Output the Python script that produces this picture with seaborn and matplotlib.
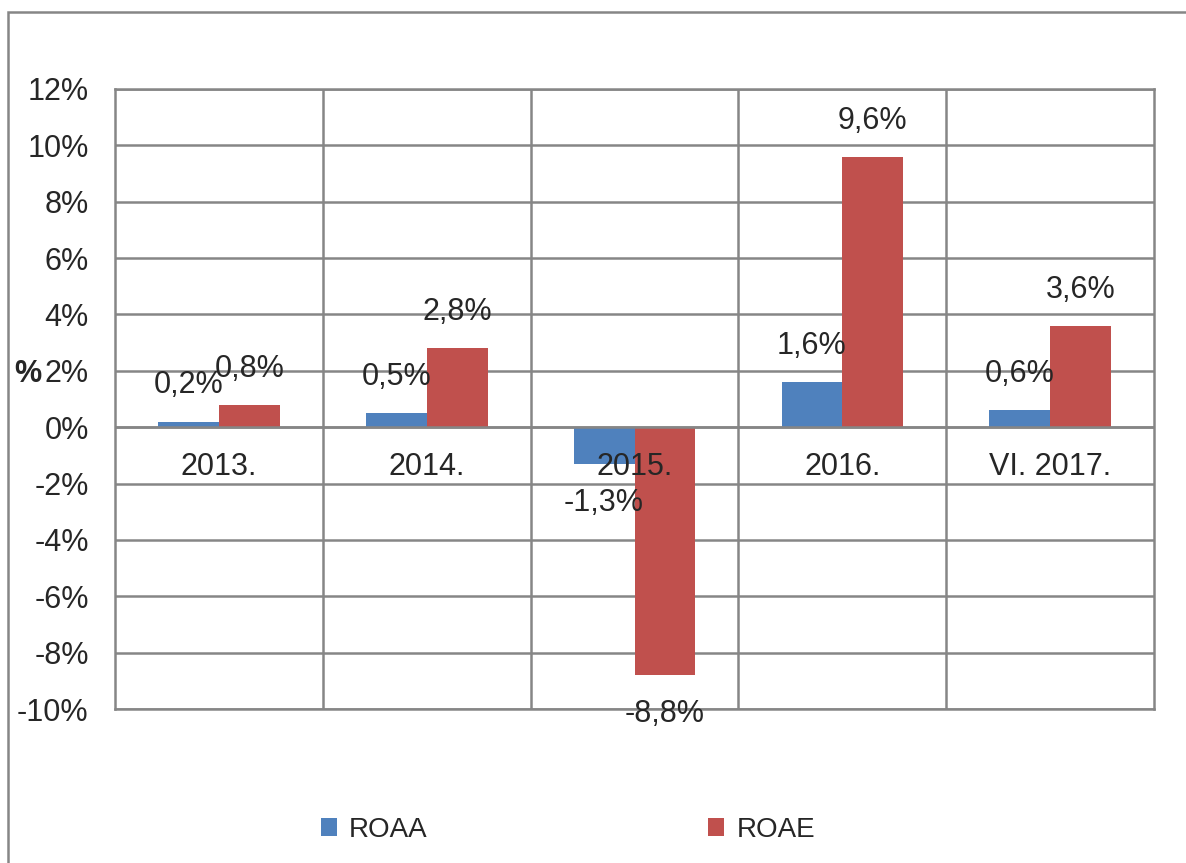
import matplotlib
matplotlib.use('Agg')
import matplotlib.pyplot as plt
import seaborn as sns
import pandas as pd
from matplotlib.patches import Rectangle

# data
years = ['2013.', '2014.', '2015.', '2016.', 'VI. 2017.']
roaa = [0.2, 0.5, -1.3, 1.6, 0.6]
roae = [0.8, 2.8, -8.8, 9.6, 3.6]
series = ['ROAA', 'ROAE']
colors = ['#4F81BD', '#C0504D']
yticks = list(range(-10, 13, 2))

sns.set_style('white')
plt.rcParams['font.family'] = ['Liberation Sans', 'DejaVu Sans']

df = pd.DataFrame({
    'year': years * 2,
    'value': roaa + roae,
    'series': ['ROAA'] * len(years) + ['ROAE'] * len(years),
})

grid_col = '#868686'
fs = 22

fig = plt.figure(figsize=(11.86, 8.63), dpi=100)
ax = fig.add_axes([0.097, 0.1784, 0.876, 0.7185])

sns.barplot(data=df, x='year', y='value', hue='series', hue_order=series,
            palette=colors, saturation=1, width=0.585, gap=0, linewidth=0,
            ax=ax)

ax.set_xlim(-0.5, len(years) - 0.5)
ax.set_ylim(-10, 12)
ax.set_yticks(yticks)
ax.set_yticklabels([f'{t}%' for t in yticks], fontsize=fs)
ax.tick_params(axis='y', length=0, pad=19)
ax.set_xticks(range(len(years)))
ax.set_xticklabels([''] * len(years))
ax.tick_params(axis='x', length=0, which='both')
ax.set_xticks([i + 0.5 for i in range(len(years) - 1)], minor=True)
ax.set_xlabel('')
ax.set_ylabel('')

ax.set_axisbelow(True)
ax.yaxis.grid(True, color=grid_col, lw=1.8)
ax.xaxis.grid(True, which='minor', color=grid_col, lw=1.8)
ax.xaxis.grid(False, which='major')
ax.axhline(0, color=grid_col, lw=1.8, zorder=2.5)
for s in ax.spines.values():
    s.set_visible(True)
    s.set_color(grid_col)
    s.set_linewidth(1.8)

# category labels sit just under the zero line
for i, y in enumerate(years):
    ax.annotate(y, (i, 0), xytext=(0, -29), textcoords='offset points',
                ha='center', va='center', fontsize=fs, zorder=5)

# data labels
for cont, vals in zip(ax.containers, [roaa, roae]):
    for bar, v in zip(cont, vals):
        x = bar.get_x() + bar.get_width() / 2
        lab = f'{v:.1f}%'.replace('.', ',')
        ax.annotate(lab, (x, v), xytext=(0, 26 if v >= 0 else -28),
                    textcoords='offset points', ha='center', va='center',
                    fontsize=fs, zorder=5)

fig.text(28 / 1186, 1 - 374 / 863, '%', fontsize=fs, fontweight='bold',
         ha='center', va='center')

sns.move_legend(ax, 'center', bbox_to_anchor=(0.479, 0.038),
                bbox_transform=fig.transFigure, ncol=2, frameon=False,
                title=None, fontsize=20, columnspacing=10.1,
                handlelength=0.58, handleheight=0.62, handletextpad=0.45)

# outer chart border (runs off the right and bottom edges)
fig.add_artist(Rectangle((8 / 1186, -0.5), 2, 0.5 + 1 - 12 / 863,
                         transform=fig.transFigure, fill=False,
                         ec=grid_col, lw=1.8))

fig.savefig('out.png', dpi=100)
